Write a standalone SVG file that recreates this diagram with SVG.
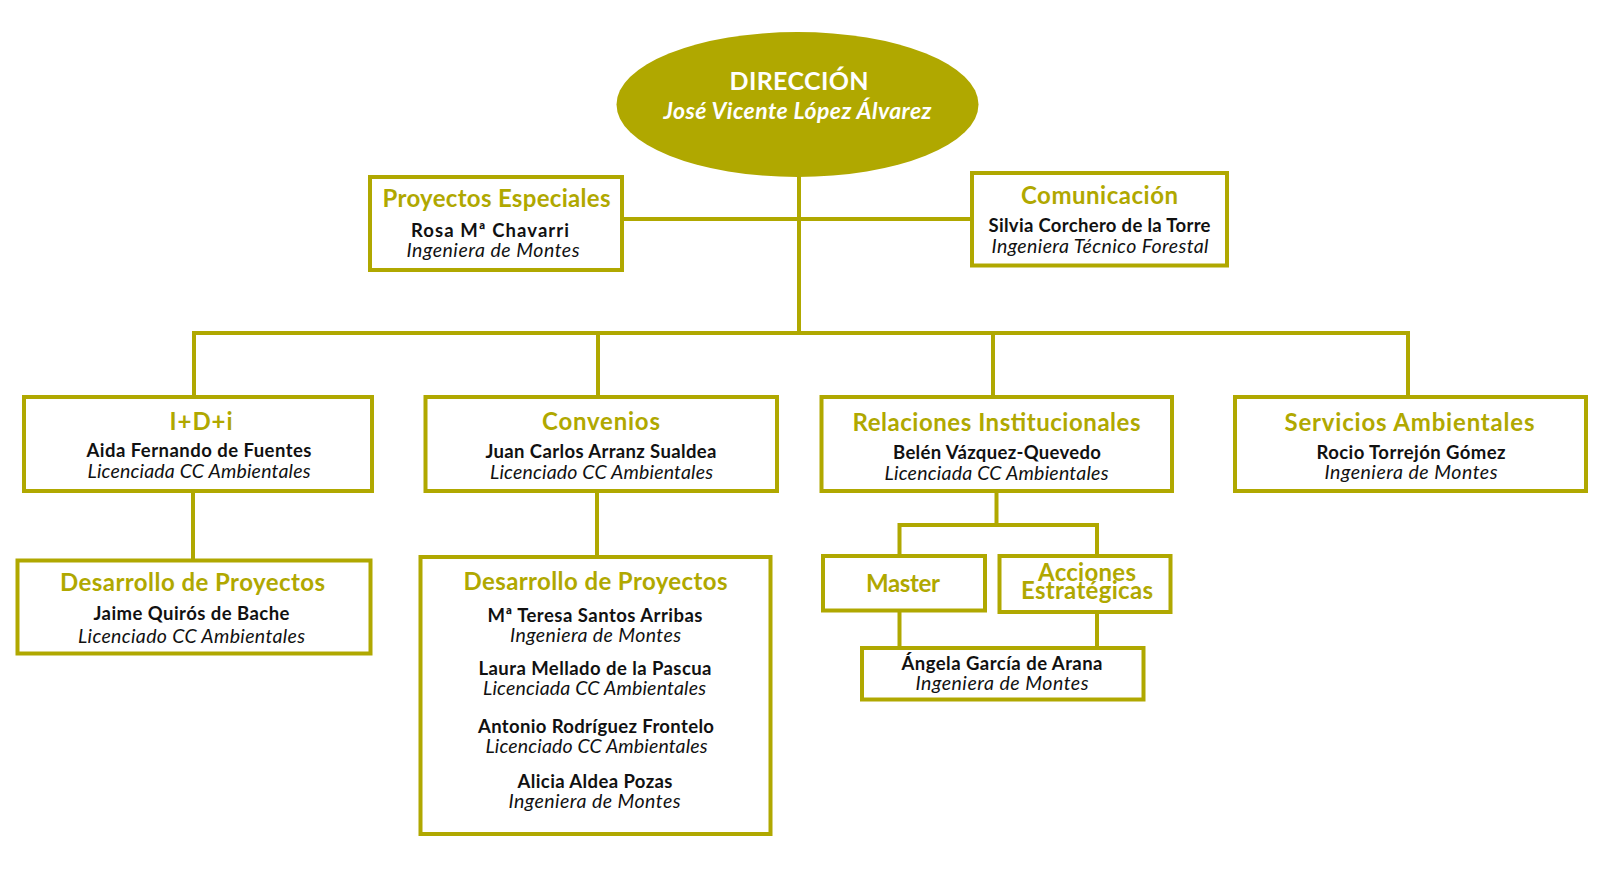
<svg xmlns="http://www.w3.org/2000/svg" width="1600" height="881" viewBox="0 0 1600 881">
<style>
.bg{fill:#ffffff}
.box{fill:#ffffff;stroke:#B0A800;stroke-width:4}
.ell{fill:#B0A800}
.con{fill:none;stroke:#B0A800;stroke-width:4;stroke-linejoin:miter;stroke-linecap:butt}
.t{font-family:Lato,"Open Sans","Liberation Sans",sans-serif;font-weight:700;font-size:24px;fill:#B0A800;text-anchor:middle}
.n{font-family:Lato,"Open Sans","Liberation Sans",sans-serif;font-weight:700;font-size:18.5px;fill:#111111;text-anchor:middle}
.r{font-family:Lato,"Open Sans","Liberation Sans",sans-serif;font-weight:400;font-style:italic;font-size:19.5px;fill:#111111;text-anchor:middle}
.h1{font-family:Lato,"Open Sans","Liberation Sans",sans-serif;font-weight:700;font-size:25px;fill:#ffffff;text-anchor:middle}
.h2{font-family:Lato,"Open Sans","Liberation Sans",sans-serif;font-weight:700;font-style:italic;font-size:23px;fill:#ffffff;text-anchor:middle}
</style>
<rect class="bg" x="0" y="0" width="1600" height="881"/>
<g id="connectors">
<path class="con" d="M799,170 V333"/>
<path class="con" d="M622,219 H972"/>
<path class="con" d="M194,397 V333 H1408 V397"/>
<path class="con" d="M598,333 V397"/>
<path class="con" d="M993,333 V397"/>
<path class="con" d="M193,491 V560"/>
<path class="con" d="M597,491 V557"/>
<path class="con" d="M996.5,491 V525"/>
<path class="con" d="M899.5,556 V525 H1097 V556"/>
<path class="con" d="M899.5,610 V648"/>
<path class="con" d="M1097,612 V648"/>
</g>
<g id="direccion">
<ellipse class="ell" cx="797.5" cy="104.5" rx="181" ry="72.5"/>
<text class="h1" x="799" y="90" textLength="139">DIRECCIÓN</text>
<text class="h2" x="797.5" y="119" textLength="268">José Vicente López Álvarez</text>
</g>
<g id="proyectos-especiales">
<rect class="box" x="370" y="177" width="252" height="93"/>
<text class="t" x="496.5" y="207" textLength="228">Proyectos Especiales</text>
<text class="n" x="490" y="237" textLength="158">Rosa Mª Chavarri</text>
<text class="r" x="493" y="257" textLength="173">Ingeniera de Montes</text>
</g>
<g id="comunicacion">
<rect class="box" x="972" y="173" width="255" height="92.5"/>
<text class="t" x="1099.5" y="204" textLength="157">Comunicación</text>
<text class="n" x="1099.5" y="232" textLength="222">Silvia Corchero de la Torre</text>
<text class="r" x="1100" y="253" textLength="217">Ingeniera Técnico Forestal</text>
</g>
<g id="idi">
<rect class="box" x="24" y="397" width="348" height="94"/>
<text class="t" x="201" y="430" textLength="63">I+D+i</text>
<text class="n" x="199" y="457" textLength="225">Aida Fernando de Fuentes</text>
<text class="r" x="199" y="478" textLength="223">Licenciada CC Ambientales</text>
</g>
<g id="convenios">
<rect class="box" x="425.5" y="397" width="351.5" height="94"/>
<text class="t" x="601" y="430" textLength="118">Convenios</text>
<text class="n" x="601" y="458" textLength="231">Juan Carlos Arranz Sualdea</text>
<text class="r" x="601.5" y="479" textLength="223">Licenciado CC Ambientales</text>
</g>
<g id="relaciones">
<rect class="box" x="821.5" y="397" width="350.5" height="94"/>
<text class="t" x="996.5" y="430.5" textLength="288">Relaciones Institucionales</text>
<text class="n" x="997" y="459" textLength="208">Belén Vázquez-Quevedo</text>
<text class="r" x="996.5" y="480" textLength="224">Licenciada CC Ambientales</text>
</g>
<g id="servicios">
<rect class="box" x="1235" y="397" width="351" height="94"/>
<text class="t" x="1409.5" y="430.5" textLength="250">Servicios Ambientales</text>
<text class="n" x="1411" y="459" textLength="189">Rocio Torrejón Gómez</text>
<text class="r" x="1411" y="479" textLength="173">Ingeniera de Montes</text>
</g>
<g id="desarrollo-idi">
<rect class="box" x="17.5" y="560.5" width="353" height="93"/>
<text class="t" x="192.5" y="591" textLength="265">Desarrollo de Proyectos</text>
<text class="n" x="191.5" y="620" textLength="196">Jaime Quirós de Bache</text>
<text class="r" x="191.5" y="643" textLength="227">Licenciado CC Ambientales</text>
</g>
<g id="desarrollo-convenios">
<rect class="box" x="420.5" y="557" width="350" height="277"/>
<text class="t" x="595.5" y="590" textLength="264">Desarrollo de Proyectos</text>
<text class="n" x="595" y="621.5" textLength="215">Mª Teresa Santos Arribas</text>
<text class="r" x="595.5" y="641.5" textLength="171">Ingeniera de Montes</text>
<text class="n" x="595" y="675" textLength="233">Laura Mellado de la Pascua</text>
<text class="r" x="594.5" y="695" textLength="223">Licenciada CC Ambientales</text>
<text class="n" x="596" y="733" textLength="236">Antonio Rodríguez Frontelo</text>
<text class="r" x="596.5" y="753" textLength="222">Licenciado CC Ambientales</text>
<text class="n" x="595" y="788" textLength="155">Alicia Aldea Pozas</text>
<text class="r" x="594.5" y="808" textLength="172">Ingeniera de Montes</text>
</g>
<g id="master">
<rect class="box" x="823" y="556" width="162" height="54.5"/>
<text class="t" x="903" y="591.5" textLength="74">Master</text>
</g>
<g id="acciones-estrategicas">
<rect class="box" x="999.5" y="556" width="171" height="56"/>
<text class="t" x="1087" y="581" textLength="98">Acciones</text>
<text class="t" x="1087" y="599" textLength="132">Estratégicas</text>
</g>
<g id="angela">
<rect class="box" x="862" y="648" width="281.5" height="51.5"/>
<text class="n" x="1002" y="670" textLength="201">Ángela García de Arana</text>
<text class="r" x="1002" y="690" textLength="173">Ingeniera de Montes</text>
</g>
</svg>
